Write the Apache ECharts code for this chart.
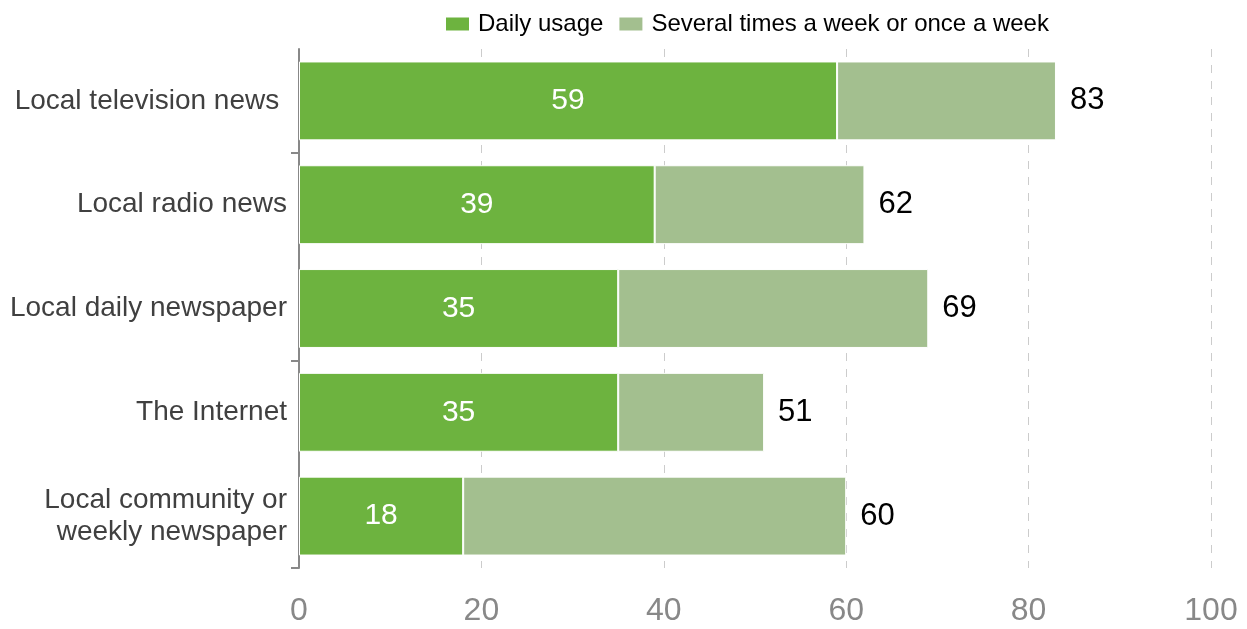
<!DOCTYPE html>
<html>
<head>
<meta charset="utf-8">
<script src="https://cdn.jsdelivr.net/npm/echarts@6/dist/echarts.min.js"></script>
<style>
  html, body { margin: 0; padding: 0; background: #fff; }
  #chart { width: 1247px; height: 629px; }
</style>
</head>
<body>
<div id="chart"></div>
<script>
var categories = ['Local television news ', 'Local radio news', 'Local daily newspaper', 'The Internet', 'Local community or\nweekly newspaper'];
var dailyUsage = [59, 39, 35, 35, 18];
var weeklyUsage = [24, 23, 34, 16, 42];
var xTicks = [0, 20, 40, 60, 80, 100];

var chart = echarts.init(document.getElementById('chart'));

var option = {
    backgroundColor: '#fff',
    textStyle: { fontFamily: 'Liberation Sans, Arial, sans-serif' },
    legend: {
        top: 7,
        left: 439,
        itemWidth: 25,
        itemHeight: 15,
        itemGap: 14,
        icon: 'rect',
        textStyle: { color: '#000', fontSize: 24, padding: [0, 0, 0, 3] },
        data: ['Daily usage', 'Several times a week or once a week']
    },
    grid: {
        left: 299,
        right: 36,
        top: 49,
        bottom: 61,
        containLabel: false
    },
    xAxis: {
        type: 'value',
        min: xTicks[0],
        max: xTicks[xTicks.length - 1],
        interval: 20,
        axisLine: { show: false },
        axisTick: { show: false },
        axisLabel: { color: '#888', fontSize: 32, margin: 27 },
        splitLine: { show: true, lineStyle: { color: '#ccc', type: [8, 8], width: 1 } }
    },
    yAxis: {
        type: 'category',
        inverse: true,
        data: categories,
        axisLine: { show: true, lineStyle: { color: '#888', width: 2 } },
        axisTick: {
            show: true,
            inside: false,
            length: 8,
            interval: function (index) { return index % 2 === 1; },
            lineStyle: { color: '#888', width: 2 }
        },
        axisLabel: { color: '#404040', fontSize: 28, margin: 12, lineHeight: 32 }
    },
    series: [
        {
            name: 'Daily usage',
            type: 'bar',
            stack: 'total',
            barCategoryGap: '24%',
            itemStyle: { color: '#6db33f', borderColor: '#fff', borderWidth: 1 },
            label: { show: true, position: 'inside', color: '#fff', fontSize: 30 },
            data: dailyUsage
        },
        {
            name: 'Several times a week or once a week',
            type: 'bar',
            stack: 'total',
            itemStyle: { color: '#a3bf8f', borderColor: '#fff', borderWidth: 1 },
            label: {
                show: true,
                position: 'right',
                distance: 14,
                color: '#000',
                fontSize: 31,
                formatter: function (p) {
                    return dailyUsage[p.dataIndex] + weeklyUsage[p.dataIndex];
                }
            },
            data: weeklyUsage
        }
    ]
};

chart.setOption(option);
</script>
</body>
</html>
